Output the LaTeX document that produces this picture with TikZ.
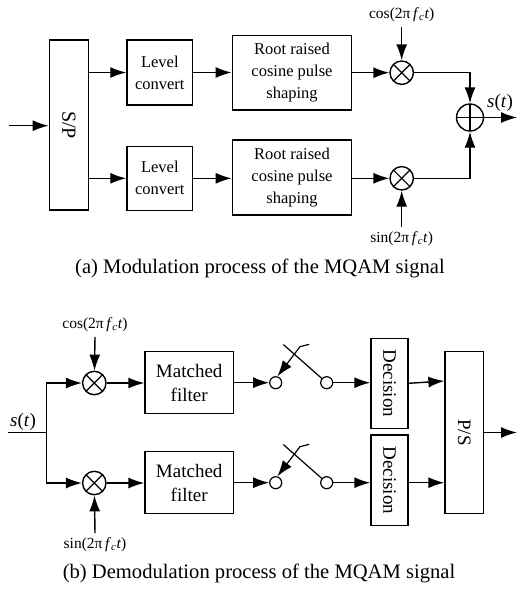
\documentclass[tikz,border=0pt]{standalone}
\usepackage{fontspec}
\setmainfont{Liberation Serif}
\usetikzlibrary{arrows.meta,calc}
\newcommand\myfbox{\fontsize{16.5}{22}\selectfont}
\newcommand\myfmf{\fontsize{19}{24}\selectfont}
\newcommand\myflab{\fontsize{15.5}{18}\selectfont}
\newcommand\myfcap{\fontsize{20.6}{24}\selectfont}
\newcommand\mycos{cos(2π\,\textit{f}\textsubscript{\textit{c}}\textit{t})}
\newcommand\mysin{sin(2π\,\textit{f}\textsubscript{\textit{c}}\textit{t})}
\newcommand\myst{\textit{s}(\textit{t})}
\begin{document}
\begin{tikzpicture}[x=1pt,y=-1pt,line width=1.4pt,
  every node/.style={inner sep=0pt},
  box/.style={draw,line width=1.4pt,align=center},
  mult/.style={draw,circle,minimum size=23.4pt,line width=1.4pt,
    path picture={\draw[line width=1.2pt] (path picture bounding box.north west)--(path picture bounding box.south east)
      (path picture bounding box.north east)--(path picture bounding box.south west);}},
  summ/.style={draw,circle,minimum size=27pt,line width=1.4pt,
    path picture={\draw[line width=1.2pt] (path picture bounding box.north)--(path picture bounding box.south)
      (path picture bounding box.east)--(path picture bounding box.west);}},
  swc/.style={draw,circle,minimum size=12pt,line width=1.2pt},
  arr/.style={-{Latex[length=16pt,width=11pt]}},
  lab/.style={font=\myflab},
]
\useasboundingbox (0,0) rectangle (517,590);
% ---------- (a) modulation ----------
\coordinate (in1) at (9,125.7);
\node[box,minimum width=39pt,minimum height=170pt] (sp) at (68.8,125) {\fontsize{20}{24}\selectfont\rotatebox{-90}{S/P}};
\node[box,minimum width=65.7pt,minimum height=65pt,font=\myfbox] (lc1) at (159.8,72.5) {Level\\convert};
\node[box,minimum width=65.7pt,minimum height=64pt,font=\myfbox] (lc2) at (159.8,178.3) {Level\\convert};
\node[box,minimum width=119.4pt,minimum height=74.3pt,font=\myfbox] (rrc1) at (292,72.8) {Root raised\\cosine pulse\\shaping};
\node[box,minimum width=119.4pt,minimum height=75pt,font=\myfbox] (rrc2) at (292,177.5) {Root raised\\cosine pulse\\shaping};
\node[mult] (m1) at (401.7,72.7) {};
\node[mult] (m2) at (401.7,178.3) {};
\node[lab] (cosA) at (401.7,15) {\mycos};
\node[lab] (sinA) at (401.7,239) {\mysin};
\node[summ] (sum) at (470,117.5) {};
\coordinate (out1) at (517,117.5);
\node[font=\myfmf] (stA) at (500,103) {\myst};
\draw[arr] (in1) -- (sp.west |- in1);
\draw[arr] (sp.east |- lc1) -- (lc1);
\draw[arr] (sp.east |- lc2) -- (lc2);
\draw[arr] (lc1.east) -- (lc1.east -| rrc1.west);
\draw[arr] (lc2.east) -- (lc2.east -| rrc2.west);
\draw[arr] (rrc1.east |- m1) -- (m1);
\draw[arr] (rrc2.east |- m2) -- (m2);
\draw[arr] ([yshift=-4pt]cosA.south) -- (m1);
\draw[arr] ([yshift=4pt]sinA.north) -- (m2);
\draw[arr] (m1) -| (sum);
\draw[arr] (m2) -| (sum);
\draw[arr] (sum) -- (out1);
\node[font=\myfcap] (capA) at (260,268) {(a) Modulation process of the MQAM signal};
% ---------- (b) demodulation ----------
\coordinate (in2) at (8,432.7);
\coordinate (br) at (46.7,432.7);
\node[font=\myfmf] (stB) at (23,421.7) {\myst};
\node[mult] (md1) at (94.3,383) {};
\node[mult] (md2) at (94.3,483) {};
\node[lab] (cosB) at (95,325) {\mycos};
\node[lab] (sinB) at (95,545) {\mysin};
\node[box,minimum width=88.3pt,minimum height=61.6pt,font=\myfmf] (mf1) at (189.2,382.5) {Matched\\filter};
\node[box,minimum width=88.3pt,minimum height=61.6pt,font=\myfmf] (mf2) at (189.2,482.5) {Matched\\filter};
\node[swc] (sl1) at (275.7,382.7) {};
\node[swc] (sr1) at (326.7,382.7) {};
\node[swc] (sl2) at (275.7,482.7) {};
\node[swc] (sr2) at (326.7,482.7) {};
\node[box,minimum width=37pt,minimum height=90pt] (dec1) at (389.5,383.3) {\myfmf\rotatebox{-90}{Decision}};
\node[box,minimum width=37pt,minimum height=90.7pt] (dec2) at (389.5,480.3) {\myfmf\rotatebox{-90}{Decision}};
\node[box,minimum width=38.3pt,minimum height=161.6pt] (ps) at (464.2,432.5) {\myfmf\rotatebox{-90}{P/S}};
\coordinate (out2) at (517,432.5);
\draw (in2) -- (br);
\draw[arr] (br) |- (md1);
\draw[arr] (br) |- (md2);
\draw[arr] ([yshift=-4pt]cosB.south) -- (md1);
\draw[arr] ([yshift=4pt]sinB.north) -- (md2);
\draw[arr] (md1) -- (md1 -| mf1.west);
\draw[arr] (md2) -- (md2 -| mf2.west);
\draw[arr] (mf1.east |- sl1) -- (sl1);
\draw[arr] (mf2.east |- sl2) -- (sl2);
\foreach \l/\r in {sl1/sr1,sl2/sr2}{
  \draw[line width=1.2pt] ($(\r)+(-43.4,-38.2)$) -- (\r.139);
  \draw[line width=1.2pt,arr] ($(\l)+(33.6,-38.4)$) -- ($(\l)+(24.3,-36)$) -- (\l.75);
}
\draw[arr] (sr1) -- (sr1 -| dec1.west);
\draw[arr] (sr2) -- (sr2 -| dec2.west);
\draw[arr] (dec1.east) -- ([yshift=51.5pt]ps.west);
\draw[arr] (dec2.east |- sl2) -- (ps.west |- sl2);
\draw[arr] (ps.east) -- (out2);
\node[font=\myfcap] (capB) at (259,573) {(b) Demodulation process of the MQAM signal};
\end{tikzpicture}
\end{document}
